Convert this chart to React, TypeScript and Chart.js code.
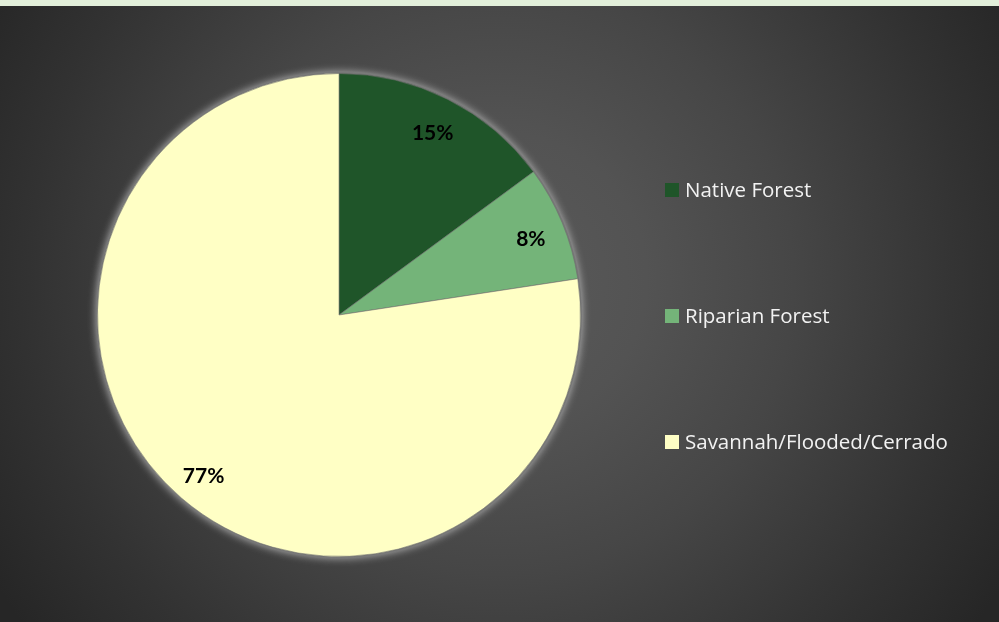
import React, { useEffect, useRef } from "react";
import { Chart, registerables } from "chart.js";

Chart.register(...registerables);

const categories = ["Native Forest", "Riparian Forest", "Savannah/Flooded/Cerrado"];
const shares = [14.9, 7.7, 77.4];
const sliceColors = ["#1f5529", "#74b479", "#ffffc5"];

const LABEL_FONT = "Lato, 'Open Sans', 'DejaVu Sans', sans-serif";
const LEGEND_FONT = "'Open Sans', Lato, 'DejaVu Sans', sans-serif";

export default function App() {
  const ref = useRef<HTMLCanvasElement>(null);

  useEffect(() => {
    document.body.style.margin = "0";
    const canvas = ref.current!;

    const bgPlugin = {
      id: "bg",
      beforeDraw(chart: any) {
        const { ctx, width, height } = chart;
        ctx.save();
        const cx = width * 0.5;
        const cy = height * 0.45;
        const r = Math.hypot(width, height) / 2;
        const g = ctx.createRadialGradient(cx, cy, 0, cx, cy, r);
        g.addColorStop(0, "#5a5a5a");
        g.addColorStop(0.25, "#535353");
        g.addColorStop(0.5, "#464646");
        g.addColorStop(0.8, "#323232");
        g.addColorStop(1, "#262626");
        ctx.fillStyle = g;
        ctx.fillRect(0, 0, width, height);
        ctx.fillStyle = "#e2efda";
        ctx.fillRect(0, 0, width, 6);
        ctx.restore();
      },
    };

    const glowPlugin = {
      id: "glow",
      beforeDatasetsDraw(chart: any) {
        const arcs = chart.getDatasetMeta(0).data;
        if (!arcs.length) return;
        const { x, y, outerRadius } = arcs[0].getProps(["x", "y", "outerRadius"], true);
        const ctx = chart.ctx;
        ctx.save();
        ctx.shadowColor = "rgba(200,200,200,0.85)";
        ctx.shadowBlur = 9;
        ctx.fillStyle = "#777777";
        ctx.beginPath();
        ctx.arc(x, y, outerRadius + 1.5, 0, Math.PI * 2);
        ctx.fill();
        ctx.restore();
      },
    };

    const labelPlugin = {
      id: "sliceLabels",
      afterDatasetsDraw(chart: any) {
        const ctx = chart.ctx;
        const data = chart.data.datasets[0].data as number[];
        const total = data.reduce((a, b) => a + b, 0);
        chart.getDatasetMeta(0).data.forEach((arc: any, i: number) => {
          const { x, y, startAngle, endAngle, outerRadius } = arc.getProps(
            ["x", "y", "startAngle", "endAngle", "outerRadius"],
            true
          );
          const mid = (startAngle + endAngle) / 2;
          const rr = outerRadius * 0.86;
          ctx.save();
          ctx.font = `bold 21px ${LABEL_FONT}`;
          ctx.fillStyle = "#000000";
          ctx.textAlign = "center";
          ctx.textBaseline = "middle";
          ctx.fillText(
            `${Math.round((data[i] / total) * 100)}%`,
            x + Math.cos(mid) * rr,
            y + Math.sin(mid) * rr + 4
          );
          ctx.restore();
        });
      },
    };

    const legendPlugin = {
      id: "sideLegend",
      afterDraw(chart: any) {
        const ctx = chart.ctx;
        const area = chart.chartArea;
        const cy = (area.top + area.bottom) / 2;
        const labels = chart.data.labels as string[];
        const bg = chart.data.datasets[0].backgroundColor as string[];
        const gap = 126;
        const boxX = 665;
        ctx.save();
        labels.forEach((lab, i) => {
          const yy = cy + (i - (labels.length - 1) / 2) * gap;
          ctx.fillStyle = bg[i];
          ctx.fillRect(boxX, yy - 6, 14, 14);
          ctx.fillStyle = "#f2f2f2";
          ctx.font = `20.5px ${LEGEND_FONT}`;
          ctx.textAlign = "left";
          ctx.textBaseline = "middle";
          ctx.fillText(lab, boxX + 20, yy + 2);
        });
        ctx.restore();
      },
    };

    const chart = new Chart(canvas, {
      type: "pie",
      data: {
        labels: categories,
        datasets: [
          {
            data: shares,
            backgroundColor: sliceColors,
            borderColor: "rgba(110,110,110,0.55)",
            borderWidth: 1,
          },
        ],
      },
      options: {
        animation: false,
        responsive: true,
        maintainAspectRatio: false,
        layout: { padding: { left: 97, right: 418, top: 73, bottom: 65 } },
        plugins: {
          legend: { display: false },
          tooltip: { enabled: false },
        },
      },
      plugins: [bgPlugin, glowPlugin, labelPlugin, legendPlugin],
    });

    return () => chart.destroy();
  }, []);

  return (
    <div style={{ width: 999, height: 622, position: "relative" }}>
      <canvas ref={ref} />
    </div>
  );
}
